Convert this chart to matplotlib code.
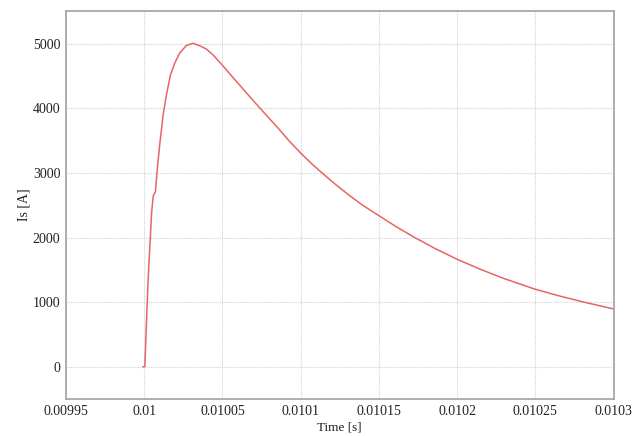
import matplotlib
matplotlib.use('Agg')
import matplotlib.pyplot as plt

# secondary current pulse, time in microseconds after t = 0.01 s
time_us = [
    -0.7, 0.4, 1.5, 2.5, 3.6, 4.7, 5.7, 6.1, 7.2, 8.2, 9.9, 12.1, 14.2,
    16.8, 19.5, 22.7, 27.0, 31.2, 35.5, 39.7, 43.9, 50, 56, 62, 68, 74,
    80, 86, 92, 100, 107, 114, 122, 130, 140, 150, 161, 173, 186, 200,
    215, 230, 250, 265, 280, 300,
]
current_a = [
    0, 0, 724, 1344, 1860, 2378, 2636, 2662, 2713, 3023, 3437, 3902, 4212,
    4522, 4704, 4859, 4977, 5010, 4972, 4921, 4833, 4670, 4500, 4335, 4168, 4005,
    3845, 3685, 3515, 3310, 3145, 2995, 2830, 2675, 2495, 2340, 2170, 2000, 1830, 1665,
    1508, 1366, 1200, 1099, 1007, 895,
]

xticks = [0.00995, 0.01, 0.01005, 0.0101, 0.01015, 0.0102, 0.01025, 0.0103]
xtick_labels = ['0.00995', '0.01', '0.01005', '0.0101', '0.01015', '0.0102', '0.01025', '0.0103']
yticks = [0, 1000, 2000, 3000, 4000, 5000]

plt.rcParams['font.family'] = ['Liberation Serif', 'DejaVu Serif']

t = [0.01 + us * 1e-6 for us in time_us]

fig = plt.figure(figsize=(6.36, 4.36), dpi=100)
ax = fig.add_axes([66 / 636, 1 - 399 / 436, (613.5 - 66) / 636, (399 - 11) / 436])

ax.plot(t, current_a, color='#e86464', linewidth=1.1)

ax.set_xlim(0.00995, 0.0103)
ax.set_ylim(-500, 5510)
ax.set_xticks(xticks)
ax.set_xticklabels(xtick_labels)
ax.set_yticks(yticks)
ax.tick_params(length=0, labelsize=10, colors='#222222', pad=4)

ax.grid(True, color='#d2d2d2', linestyle=(0, (1, 1)), linewidth=0.8)
for side in ax.spines.values():
    side.set_color('#a8a8a8')
    side.set_linewidth(1.3)

ax.set_xlabel('Time [s]', fontsize=9.5, color='#222222', labelpad=3)
ax.set_ylabel('Is [A]', fontsize=10, color='#222222', labelpad=2)

fig.savefig('out.png', dpi=100)
